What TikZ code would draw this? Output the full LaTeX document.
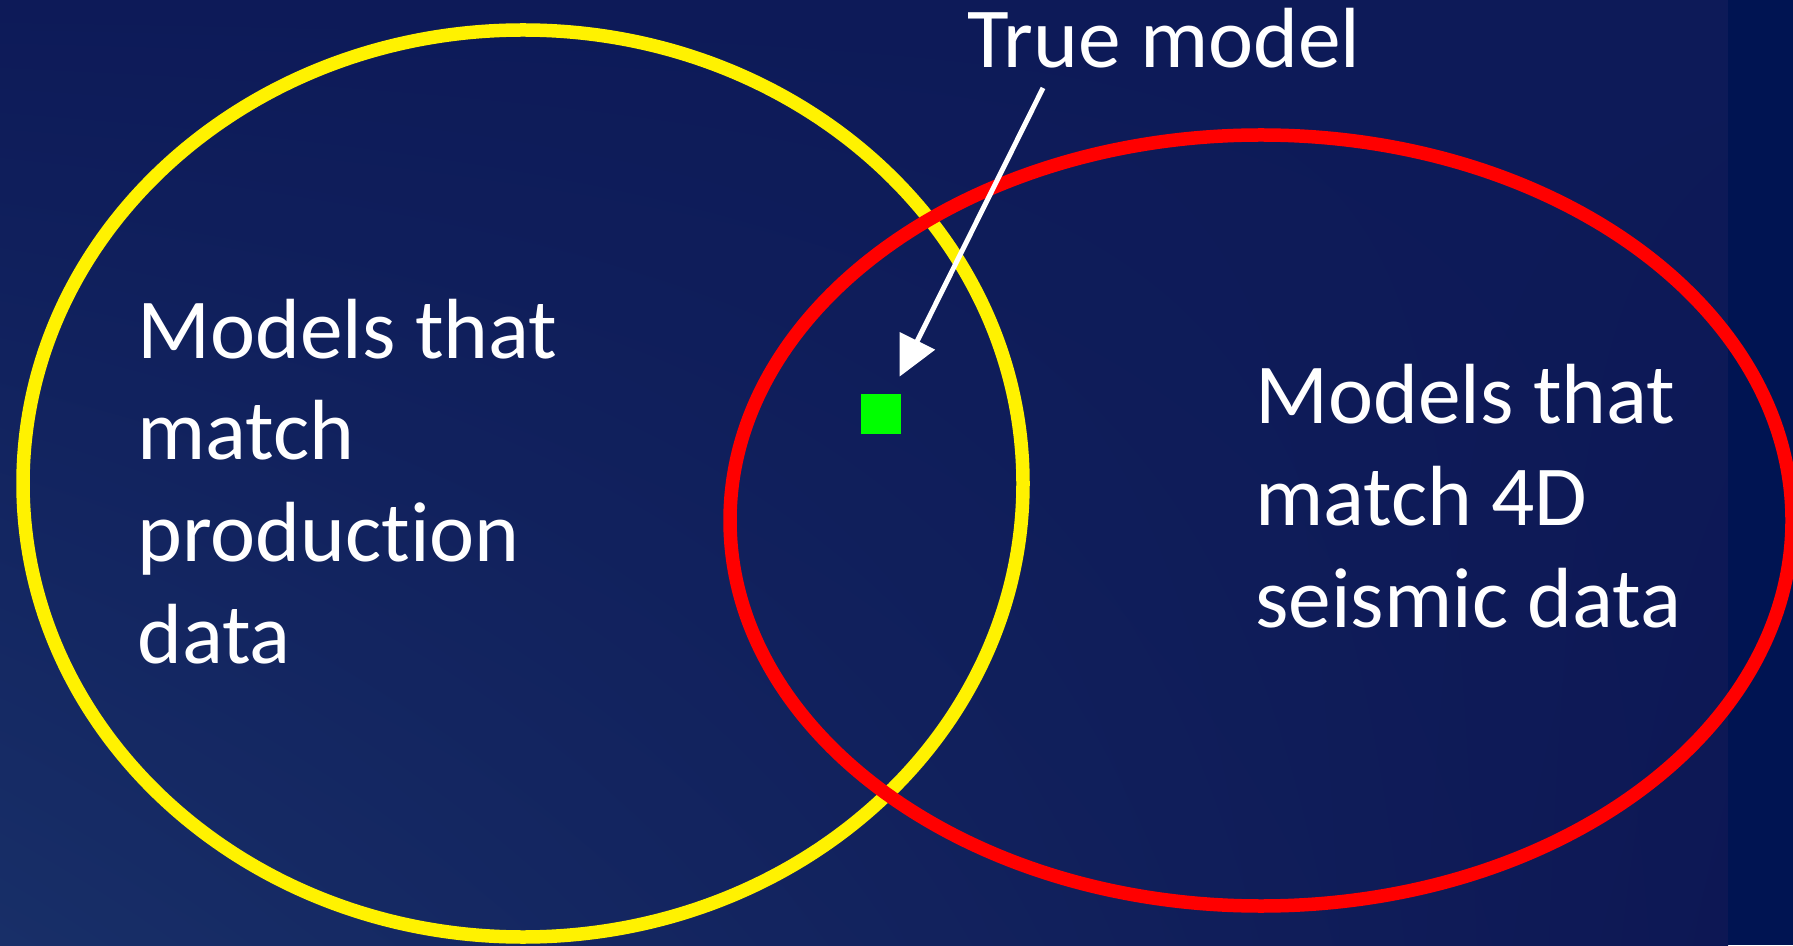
\documentclass[tikz,border=0pt]{standalone}
\usepackage{fontspec}
\setmainfont{Carlito}[Ligatures=NoCommon]
\usepackage{xcolor}
\usepackage{tikz}
\usetikzlibrary{arrows.meta, positioning, calc, shadings}

\definecolor{bgtop}{RGB}{13,26,88}
\definecolor{bglow}{RGB}{24,47,104}
\definecolor{bgright}{RGB}{13,23,84}
\definecolor{bgstrip}{RGB}{0,20,82}

\begin{document}
\begin{tikzpicture}[
    setline/.style={line width=0.27cm},
    slidetext/.style={text=white, font=\fontsize{48.6pt}{57.8pt}\selectfont, inner sep=0pt, align=left},
    pointer/.style={white, line width=0.1cm, -{Triangle[length=0.8cm, width=0.77cm]}}
]
    % Background
    \useasboundingbox (0,0) rectangle (35.86,18.9);
    \shade[lower left=bglow, upper left=bgtop, lower right=bgright, upper right=bgtop] (0,0) rectangle (34.56,18.9);
    \fill[bgstrip] (34.56,0) rectangle (35.86,18.9);

    % Sets
    \draw[setline, yellow] (10.46,9.23) ellipse [x radius=10.0, y radius=9.07];
    \draw[setline, red] (25.22,8.49) ellipse [x radius=10.62, y radius=7.71];

    % True model marker
    \node[fill=green, minimum size=0.8cm, inner sep=0pt] (truth) at (17.62,10.62) {};

    % Labels (base = last line)
    \node[slidetext, anchor=base west] (prod) at (2.74,5.64) {Models that\\match\\production\\data};
    \node[slidetext, anchor=base west] (seis) at (25.1,6.36) {Models that\\match 4D\\seismic data};
    \node[slidetext, anchor=base west] (truelbl) at (19.34,17.54) {True model};

    % Arrow to the true model
    \coordinate (tail) at (20.86,17.14);
    \draw[pointer, shorten >=0.38cm] (tail) -- (truth);
\end{tikzpicture}
\end{document}
